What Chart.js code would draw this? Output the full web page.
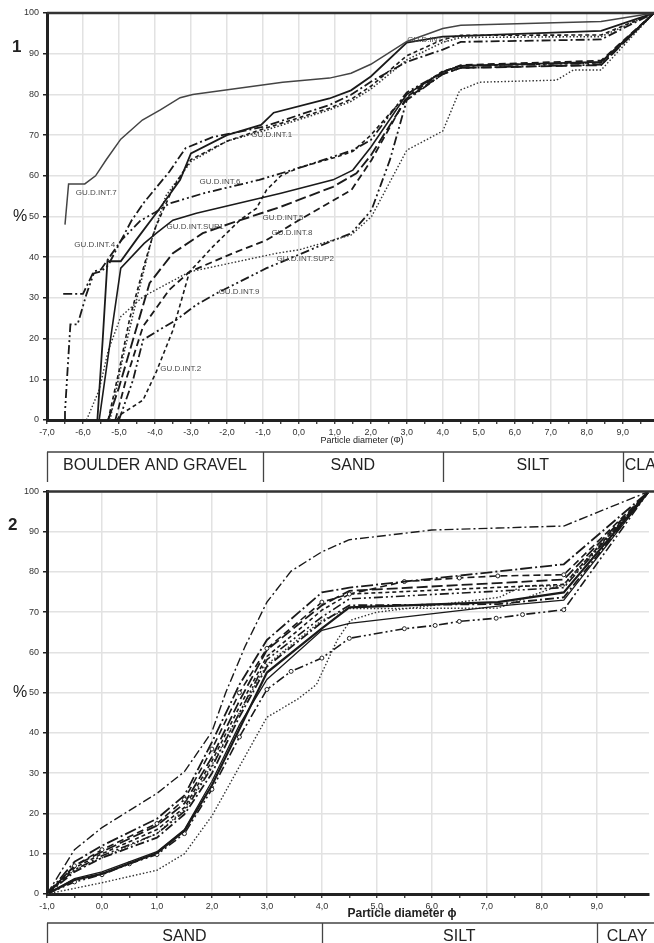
<!DOCTYPE html>
<html>
<head>
<meta charset="utf-8">
<script src="https://cdn.jsdelivr.net/npm/chart.js@4.4.1/dist/chart.umd.min.js"></script>
<style>
  body { margin: 0; background: #fff; overflow: hidden; }
  canvas { display: block; }
</style>
</head>
<body>
<canvas id="chartTop" width="654" height="482"></canvas>
<canvas id="chartBottom" width="654" height="461"></canvas>
<script>
// ---- panel 1 : cumulative curves, phi -7 .. 10 ----
const int7  = [[-6.5,48],[-6.4,58],[-5.95,58],[-5.65,60],[-5.35,64],[-4.95,69],[-4.35,73.7],[-3.85,76.2],[-3.3,79.2],[-2.95,80],[-0.45,83],[0.85,84],[1.45,85.2],[2.0,87.4],[3.0,93],[4.0,96.2],[4.5,97],[8.4,97.9],[9.87,100]];
const int4  = [[-5.6,0],[-5.45,20],[-5.32,39],[-4.95,39],[-4.5,44.5],[-3.95,51],[-3.3,59],[-3.0,65.5],[-2.0,70],[-1.05,72.5],[-0.7,75.5],[0.85,79],[1.45,81],[2.0,84.4],[3.0,92.7],[4.0,94.2],[8.4,95.6],[9.87,100]];
const int1  = [[-6.55,31],[-6.0,31],[-5.7,36.5],[-5.5,37],[-4.95,44],[-4.65,49],[-4.3,53.5],[-3.6,61],[-3.15,66.8],[-2.4,69.5],[-1.0,72],[0.85,77.4],[1.45,79.9],[2.0,83.1],[3.0,88],[4.0,91],[4.5,92.9],[8.4,93.5],[9.87,100]];
const int3  = [[-5.3,0],[-5.0,12],[-4.7,25],[-4.3,38],[-4.0,47],[-3.5,57],[-3.0,64],[-2.0,68.5],[-1.0,71.5],[0.85,76.6],[1.45,78.8],[2.0,82],[3.0,89.5],[4.0,93.5],[4.5,94.5],[8.4,94.6],[9.87,100]];
const intDot = [[-5.25,0],[-4.9,15],[-4.5,30],[-4.1,44],[-3.7,55],[-3.0,63.5],[-2.0,68.5],[-1.0,71],[0.85,76.2],[1.45,78.3],[2.0,81.3],[3.0,88.5],[4.0,92.8],[4.5,94],[8.4,94.2],[9.87,100]];
const sup1  = [[-5.55,0],[-5.2,22],[-4.95,37.3],[-4.3,43.4],[-3.95,46],[-3.5,49.1],[-2.85,50.8],[-0.5,55.7],[0.95,59],[1.5,61.4],[2.0,67],[3.0,80],[4.0,85.5],[4.5,87],[8.4,88],[9.87,100]];
const int6  = [[-6.5,0],[-6.5,2],[-6.35,23.5],[-6.15,23.5],[-5.9,31],[-5.7,36],[-5.5,36.5],[-5.3,38],[-4.95,44],[-4.4,49],[-4.0,51],[-3.6,53.2],[-2.65,55.7],[-1.1,59],[0.1,62.2],[1.5,66.3],[2.0,68.8],[3.0,80.5],[4.0,85.5],[4.5,87],[8.4,87.8],[9.87,100]];
const int5  = [[-5.3,0],[-5.0,8],[-4.6,20],[-4.15,33.6],[-3.5,41],[-2.67,45.9],[-1.9,48.3],[-0.5,52.4],[0.95,57.3],[1.6,60.6],[2.0,65],[3.0,79],[4.0,85],[4.5,86.5],[8.4,87.2],[9.87,100]];
const int8  = [[-5.1,0],[-4.8,10],[-4.33,23],[-3.6,32],[-3.04,36.4],[-1.83,41],[-0.9,44.2],[0.0,49.1],[1.46,56.5],[2.02,63.9],[3.0,79.4],[4.0,85.5],[4.5,87.2],[8.4,88.3],[9.87,100]];
const sup2  = [[-5.9,0],[-5.55,7.4],[-5.3,17],[-4.95,25.4],[-4.33,30.3],[-3.04,36.4],[-0.6,41],[0.0,41.8],[1.46,45.5],[2.02,50],[3.0,66.3],[4.0,71],[4.47,81],[5.03,83],[7.16,83.5],[7.63,86],[8.4,86],[9.87,100]];
const int9  = [[-5.0,0],[-4.61,9.8],[-4.33,19.7],[-3.96,21.7],[-3.41,24.6],[-2.85,28.3],[-2.29,31.1],[-0.9,37.3],[0.53,42.6],[1.46,45.9],[2.02,51.6],[2.53,63.9],[3.0,78.6],[4.0,85],[4.5,86.5],[8.4,87.3],[9.87,100]];
const int2  = [[-5.05,0],[-4.98,1.2],[-4.33,4.9],[-3.96,11.9],[-3.5,22.1],[-3.04,36.4],[-2.39,42.6],[-1.64,49.1],[-1.18,52],[-0.9,56.5],[-0.5,60],[0.0,62],[1.0,64.5],[1.5,66],[2.0,70],[3.0,80],[4.0,85.7],[4.5,87],[8.4,87.8],[9.87,100]];

const topXTicks = [-7,-6,-5,-4,-3,-2,-1,0,1,2,3,4,5,6,7,8,9];
const topCategories = ['BOULDER AND GRAVEL', 'SAND', 'SILT', 'CLAY'];
const topLimits = [-7, -1, 4, 9];

// curve names written on the plot, and where they sit (data units)
const topNames = ['GU.D.INT.7','GU.D.INT.1','GU.D.INT.6','GU.D.INT.4','GU.D.INT.SUP1','GU.D.INT.5','GU.D.INT.8','GU.D.INT.SUP2','GU.D.INT.9','GU.D.INT.2','GU.D.INT.3'];
const topNameX = [-6.2, -1.32, -2.76, -6.24, -3.68, -1.01, -0.76, -0.62, -2.23, -3.85, 3.01];
const topNameY = [55.8, 70.0, 58.6, 43.0, 47.5, 49.6, 46.0, 39.7, 31.5, 12.5, 93.4];

// ---- panel 2 : phi -1 .. 10 ----
const b1  = [[-1,0],[-0.5,11],[0,16.5],[1,25],[1.5,30.4],[2,40.3],[2.25,50],[2.6,61.4],[3,72.5],[3.44,80.2],[4,85],[4.5,88],[6,90.4],[7.2,90.9],[8.4,91.4],[9.95,100]];
const b2  = [[-1,0],[-0.5,8],[0,12],[1,18.7],[1.5,24.5],[2,37.7],[2.5,52],[3,63.1],[4,74.9],[4.5,76.1],[8.4,81.9],[9.95,100]];
const b3  = [[-1,0],[-0.5,7],[0,11],[1,17.5],[1.5,23.5],[2,36],[2.5,50],[3,61],[4,72.5],[4.5,74.5],[5.5,77.6],[6.5,78.5],[7.2,79],[8.4,79.3],[9.95,100]];
const b4  = [[-1,0],[-0.5,7],[0,10.5],[1,17],[1.5,22.5],[2,34],[2.5,48],[3,60.6],[4,71.7],[4.5,75.3],[8.4,78.1],[9.95,100]];
const b5  = [[-1,0],[-0.5,6.5],[0,10],[1,16],[1.5,21.5],[2,33],[2.5,46.5],[3,59],[4,70.5],[4.5,74.5],[8.4,76.9],[9.95,100]];
const b6  = [[-1,0],[-0.5,6],[0,9.5],[1,15],[1.5,20.5],[2,31.5],[2.5,45],[3,58.2],[4,68.8],[4.5,73.3],[8.4,76.1],[9.95,100]];
const b7  = [[-1,0],[-0.5,5.5],[0,9],[1,14],[1.5,19.8],[2,30],[2.5,44],[3,56.5],[4,67.5],[4.5,71.7],[7.2,72],[8.4,73.7],[9.95,100]];
const b8  = [[-1,0],[-0.5,3.5],[0,5],[1,10.2],[1.5,15.7],[2,27],[2.5,41],[3,55],[4,66],[4.5,71.2],[7.2,72.5],[8.4,74.9],[9.95,100]];
const b9  = [[-1,0],[-0.5,3.8],[0,5.5],[1,10.5],[1.5,16],[2,28],[2.5,42],[3,53.3],[4,65.5],[4.5,67.2],[7.2,71.5],[8.4,73],[9.95,100]];
const b10 = [[-1,0],[-0.5,3],[0,4.8],[0.5,7.5],[1,9.8],[1.5,15],[2,26],[2.5,39],[3,50.8],[3.44,55.3],[4,58.6],[4.5,63.5],[5.5,65.9],[6.06,66.7],[6.5,67.7],[7.17,68.5],[7.65,69.4],[8.4,70.6],[9.95,100]];
const b11 = [[-1,0],[0,2.8],[1,5.9],[1.5,10],[2,19.4],[3,43.9],[3.56,48.4],[3.9,52],[4.28,63.1],[4.52,68],[5,70],[7.23,73.7],[7.65,76.5],[8.4,76.5],[9.95,100]];
const b12 = [[-1,0],[-0.5,6],[0,9],[1,15],[1.5,21],[2,32],[2.5,45],[3,57],[4,68],[4.5,70.9],[7.2,71],[8.4,77],[9.95,100]];

const bottomXTicks = [-1,0,1,2,3,4,5,6,7,8,9];
const bottomCategories = ['SAND', 'SILT', 'CLAY'];
const bottomLimits = [-1, 4, 9];

// line patterns
const SOLID = [];
const DASH = [7, 4];
const LONG = [11, 4];
const SHORT = [4, 3];
const DOT = [1.5, 2];
const DASHDOT = [9, 3, 2, 3];
const DASHDOTDOT = [9, 3, 2, 3, 2, 3];

const FONT = '"Liberation Sans", Arial, sans-serif';

function line(points, dash, width, color, marker) {
  return {
    data: points.map(p => ({x: p[0], y: p[1]})),
    borderColor: color || '#1a1a1a',
    borderWidth: width || 1.7,
    borderDash: dash,
    pointRadius: marker ? 2 : 0,
    pointBackgroundColor: '#fff',
    pointBorderColor: '#222',
    pointBorderWidth: 1,
    tension: 0,
    fill: false
  };
}

function scales(xmin, xmax, xTicks, xHeight) {
  return {
    x: {
      type: 'linear', min: xmin, max: xmax,
      afterBuildTicks: s => {
        const t = [];
        for (let v = xmin; v < xmax; v += 0.5) t.push({value: v});
        s.ticks = t;
      },
      afterFit: s => { s.height = xHeight; },
      grid: {
        color: c => (c.tick && xTicks.includes(c.tick.value) && c.tick.value !== xmin) ? '#e2e2e2' : 'rgba(0,0,0,0)',
        lineWidth: 1.5, tickColor: '#222', tickLength: 4, tickWidth: 1.2
      },
      border: {color: '#222', width: 3},
      ticks: {
        autoSkip: false, maxRotation: 0, padding: 3, color: '#333',
        font: {size: 9, family: FONT},
        callback: v => xTicks.includes(v) ? v.toFixed(1).replace('.', ',') : ''
      }
    },
    y: {
      min: 0, max: 100,
      afterFit: s => { s.width = 47; },
      ticks: {stepSize: 10, color: '#333', padding: 4, font: {size: 9, family: FONT}},
      grid: {
        color: c => (c.tick && c.tick.value === 0) ? 'rgba(0,0,0,0)' : '#e2e2e2',
        lineWidth: 1.5, tickColor: '#222', tickLength: 4
      },
      border: {color: '#222', width: 3}
    }
  };
}

// frame, panel number, axis title, class table and curve names
function decor(o) {
  return {
    id: 'decor',
    afterDraw(chart) {
      const {ctx, chartArea: a, scales: {x, y}} = chart;
      ctx.save();
      ctx.strokeStyle = '#333';
      ctx.lineWidth = 2.5;
      ctx.beginPath(); ctx.moveTo(a.left, a.top); ctx.lineTo(chart.width, a.top); ctx.stroke();

      ctx.fillStyle = '#222';
      ctx.textBaseline = 'middle';
      ctx.textAlign = 'left';
      ctx.font = 'bold 17px ' + FONT;
      ctx.fillText(o.panel, o.panelX, y.getPixelForValue(91.5));
      ctx.font = '16px ' + FONT;
      ctx.fillText('%', 13, y.getPixelForValue(50));

      ctx.font = o.titleFont;
      ctx.textAlign = 'center';
      ctx.fillText(o.title, o.titleX, a.bottom + o.titleDy);

      // class table
      const t = o.tableTop;
      ctx.strokeStyle = '#444';
      ctx.lineWidth = 1.3;
      ctx.beginPath();
      ctx.moveTo(x.getPixelForValue(o.limits[0]), t); ctx.lineTo(chart.width, t);
      o.limits.forEach(v => {
        const px = Math.round(x.getPixelForValue(v)) + 0.5;
        ctx.moveTo(px, t); ctx.lineTo(px, chart.height);
      });
      ctx.stroke();
      ctx.font = '16px ' + FONT;
      ctx.fillStyle = '#222';
      o.categories.forEach((c, i) => {
        const left = x.getPixelForValue(o.limits[i]);
        if (i < o.limits.length - 1) {
          ctx.textAlign = 'center';
          ctx.fillText(c, (left + x.getPixelForValue(o.limits[i + 1])) / 2, t + 14);
        } else {
          ctx.textAlign = 'left';
          ctx.fillText(c, left + o.lastPad, t + 14);
        }
      });

      if (o.names) {
        ctx.font = '8px ' + FONT;
        ctx.fillStyle = '#4a4a4a';
        ctx.textAlign = 'left';
        o.names.forEach((n, i) => {
          ctx.fillText(n, x.getPixelForValue(o.nameX[i]), y.getPixelForValue(o.nameY[i]));
        });
      }
      ctx.restore();
    }
  };
}

new Chart(document.getElementById('chartTop'), {
  type: 'line',
  data: {
    datasets: [
      line(int7, SOLID, 1.5, '#444'),
      line(int4, SOLID, 1.8),
      line(int1, DASHDOT, 1.8),
      line(int3, SHORT, 1.6),
      line(intDot, DOT, 1.6, '#333'),
      line(sup1, SOLID, 1.6),
      line(int6, DASHDOTDOT, 1.8),
      line(int5, LONG, 1.9),
      line(int8, DASH, 1.8),
      line(sup2, DOT, 1.4, '#333'),
      line(int9, DASHDOTDOT, 1.8),
      line(int2, SHORT, 1.6)
    ]
  },
  options: {
    responsive: false,
    animation: false,
    layout: {padding: {top: 13, right: 0, bottom: 32, left: 0}},
    plugins: {legend: {display: false}, tooltip: {enabled: false}},
    scales: scales(-7, 9.87, topXTicks, 30)
  },
  plugins: [decor({
    panel: '1', panelX: 12,
    title: 'Particle diameter (\u03A6)', titleFont: '9px ' + FONT, titleX: 362, titleDy: 21,
    tableTop: 452, limits: topLimits, categories: topCategories, lastPad: 2,
    names: topNames, nameX: topNameX, nameY: topNameY
  })]
});

new Chart(document.getElementById('chartBottom'), {
  type: 'line',
  data: {
    datasets: [
      line(b1, DASHDOT, 1.4),
      line(b2, [12, 3, 2, 3], 1.8),
      line(b3, DASH, 1.6, null, true),
      line(b4, LONG, 1.8),
      line(b5, SHORT, 1.6),
      line(b6, DASHDOTDOT, 1.6),
      line(b7, DASHDOT, 1.8),
      line(b8, SOLID, 2.2),
      line(b9, SOLID, 1.3),
      line(b10, DASHDOTDOT, 1.6, null, true),
      line(b11, DOT, 1.4, '#333'),
      line(b12, DOT, 1.4, '#333')
    ]
  },
  options: {
    responsive: false,
    animation: false,
    layout: {padding: {top: 4, right: 0, bottom: 23, left: 0}},
    plugins: {legend: {display: false}, tooltip: {enabled: false}},
    scales: scales(-1, 9.95, bottomXTicks, 26)
  },
  plugins: [decor({
    panel: '2', panelX: 8,
    title: 'Particle diameter \u03D5', titleFont: 'bold 12px ' + FONT, titleX: 402, titleDy: 20,
    tableTop: 441, limits: bottomLimits, categories: bottomCategories, lastPad: 10
  })]
});
</script>
</body>
</html>
